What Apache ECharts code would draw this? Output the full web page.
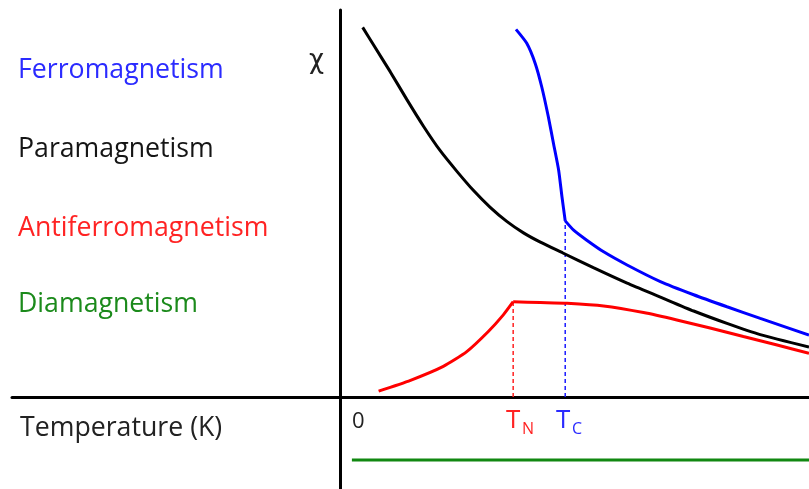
<!DOCTYPE html>
<html>
<head>
<meta charset="utf-8">
<script src="https://cdn.jsdelivr.net/npm/echarts@6/dist/echarts.min.js"></script>
<style>
  html, body { margin: 0; padding: 0; background: #fff; }
  #chart { width: 809px; height: 489px; }
</style>
</head>
<body>
<div id="chart"></div>
<script>
// 温度轴: 0..100 (任意单位), 磁化率 χ 同样为任意单位
var TN = 36.9;   // 奈尔温度
var TC = 48;     // 居里温度

// 顺磁 (黑)
var paraData = [[4.8, 95.5], [7.1, 91.0], [10.7, 84.0], [14.2, 76.9], [17.8, 69.9], [21.3, 63.7],
  [24.9, 58.3], [28.4, 53.4], [32.0, 49.0], [35.6, 45.3], [39.1, 42.4], [42.7, 40.0], [47.5, 37.2],
  [54.0, 33.4], [61.2, 29.4], [68.3, 25.8], [75.4, 22.2], [82.5, 19.0], [89.6, 16.1], [100, 12.9]];
// 铁磁 (蓝), 以 TC 分成两段
var ferroBelow = [[37.5, 95.0], [39.8, 91.4], [41.6, 86.2], [43.0, 80.1], [44.4, 72.4], [45.5, 65.5],
  [46.6, 58.6], [47.3, 51.8], [48.0, 45.5]];
var ferroAbove = [[48.0, 45.5], [49.8, 43.1], [52.6, 40.5], [56.2, 37.5], [61.2, 34.1], [68.3, 29.8],
  [75.4, 26.4], [82.5, 23.3], [89.6, 20.3], [100, 16.0]];
// 反铁磁 (红), 以 TN 分成两段
var antiBelow = [[8.2, 1.5], [15.0, 4.3], [22.0, 7.9], [27.0, 11.7], [31.6, 16.9], [34.8, 21.2], [36.9, 24.6]];
var antiAbove = [[36.9, 24.6], [42.7, 24.4], [48.4, 24.2], [56.2, 23.5], [64.7, 21.8], [71.8, 19.9],
  [78.9, 17.8], [86.0, 15.6], [93.2, 13.4], [100, 11.3]];
// 抗磁 (绿), 负值
var diaData = [[2.5, -16.3], [100, -16.3]];
// 虚线标记
var tnMark = [[TN, 0], [TN, 24.6]];
var tcMark = [[TC, 0], [TC, 45.5]];

var labelNames = ['Ferromagnetism', 'Paramagnetism', 'Antiferromagnetism', 'Diamagnetism'];
var labelColors = ['#2b2bff', '#151515', '#ff2323', '#1b8a1b'];
var labelY = [68, 147, 226, 302];

var FONT = '"Open Sans", sans-serif';

var myChart = echarts.init(document.getElementById('chart'));

function curve(data, color, smooth) {
  return {
    type: 'line',
    data: data,
    showSymbol: false,
    smooth: smooth,
    silent: true,
    lineStyle: { color: color, width: 3 },
    z: 3
  };
}
function dashed(data, color) {
  return {
    type: 'line',
    data: data,
    showSymbol: false,
    silent: true,
    lineStyle: { color: color, width: 1.5, type: [4, 3] },
    z: 2
  };
}
function txt(s, x, y, color, size, family) {
  return {
    type: 'text', left: x, top: y,
    style: { text: s, fill: color, font: size + 'px ' + (family || FONT) }
  };
}

var graphics = [];
for (var i = 0; i < labelNames.length; i++) {
  graphics.push(txt(labelNames[i], 18, labelY[i] - 11.5, labelColors[i], 26.7));
}
graphics.push(txt('Temperature (K)', 20, 414.5, '#222', 26.7));
graphics.push(txt('χ', 309, 48, '#222', 26, '"DejaVu Sans", sans-serif'));
graphics.push(txt('0', 352, 411, '#222', 22));
// T_N, T_C
graphics.push(txt('T', 506, 408, '#ff2323', 26));
graphics.push(txt('N', 522, 421, '#ff2323', 16));
graphics.push(txt('T', 556, 408, '#2b2bff', 26));
graphics.push(txt('C', 572, 421, '#2b2bff', 16));

var option = {
  backgroundColor: '#ffffff',
  animation: false,
  grid: { left: 12, right: 0, top: 10, bottom: 0 },
  xAxis: {
    type: 'value', min: -70, max: 100,
    axisLine: { onZero: true, lineStyle: { color: '#000', width: 3 } },
    axisTick: { show: false }, axisLabel: { show: false }, splitLine: { show: false }
  },
  yAxis: {
    type: 'value', min: -23.8, max: 100,
    axisLine: { show: true, onZero: true, lineStyle: { color: '#000', width: 3 } },
    axisTick: { show: false }, axisLabel: { show: false }, splitLine: { show: false }
  },
  graphic: graphics,
  series: [
    dashed(tnMark, '#ff2020'),
    dashed(tcMark, '#1a1aff'),
    curve(paraData, '#000000', 0.2),
    curve(ferroBelow, '#0000ff', 0.2),
    curve(ferroAbove, '#0000ff', 0.2),
    curve(antiBelow, '#ff0000', 0.2),
    curve(antiAbove, '#ff0000', 0.2),
    curve(diaData, '#118811', false)
  ]
};
myChart.setOption(option);
</script>
</body>
</html>
